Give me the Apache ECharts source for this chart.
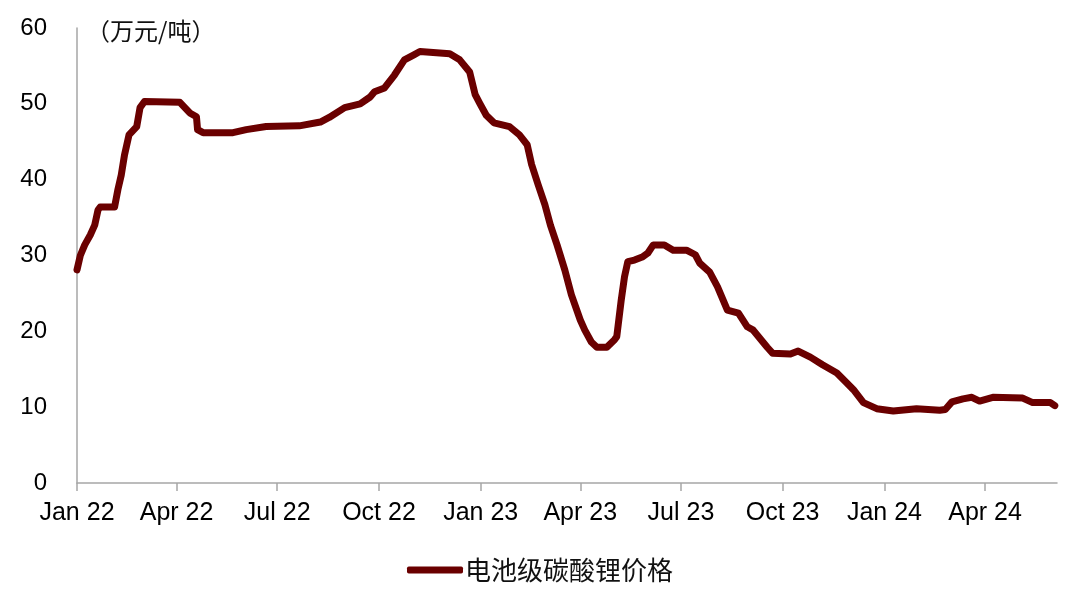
<!DOCTYPE html>
<html>
<head>
<meta charset="utf-8">
<script src="https://cdn.jsdelivr.net/npm/echarts@6/dist/echarts.min.js"></script>
<style>
html,body{margin:0;padding:0;background:#fff;}
#chart{width:1080px;height:604px;}
</style>
</head>
<body>
<div id="chart"></div>
<script>
const seriesName = '电池级碳酸锂价格';
const unitLabel = '（万元/吨）';
const tickDates = ['2022-01-01','2022-04-01','2022-07-01','2022-10-01','2023-01-01','2023-04-01','2023-07-01','2023-10-01','2024-01-01','2024-04-01'];
const tickLabels = ['Jan 22','Apr 22','Jul 22','Oct 22','Jan 23','Apr 23','Jul 23','Oct 23','Jan 24','Apr 24'];
const dates = [
 '2022-01-01','2022-01-04','2022-01-08','2022-01-13','2022-01-17','2022-01-20','2022-01-22','2022-02-04','2022-02-07','2022-02-10',
 '2022-02-13','2022-02-17','2022-02-24','2022-02-27','2022-03-03','2022-04-04','2022-04-13','2022-04-19','2022-04-20','2022-04-25',
 '2022-05-22','2022-06-03','2022-06-21','2022-07-21','2022-08-09','2022-08-17','2022-08-31','2022-09-14','2022-09-23','2022-09-27',
 '2022-10-06','2022-10-15','2022-10-24','2022-11-02','2022-11-07','2022-12-04','2022-12-13','2022-12-22','2022-12-27','2022-12-31',
 '2023-01-06','2023-01-13','2023-01-27','2023-02-05','2023-02-12','2023-02-16','2023-02-22','2023-02-28','2023-03-05','2023-03-11',
 '2023-03-18','2023-03-24','2023-04-01','2023-04-05','2023-04-11','2023-04-16','2023-04-25','2023-05-02','2023-05-04','2023-05-08',
 '2023-05-11','2023-05-14','2023-05-20','2023-05-27','2023-06-01','2023-06-06','2023-06-16','2023-06-24','2023-07-06','2023-07-14',
 '2023-07-18','2023-07-27','2023-08-03','2023-08-12','2023-08-22','2023-08-30','2023-09-04','2023-09-17','2023-09-22','2023-10-08',
 '2023-10-15','2023-10-26','2023-11-06','2023-11-19','2023-11-28','2023-12-04','2023-12-13','2023-12-25','2024-01-09','2024-01-30',
 '2024-02-20','2024-02-25','2024-03-02','2024-03-12','2024-03-20','2024-03-27','2024-04-08','2024-05-05','2024-05-14','2024-05-30',
 '2024-06-03'
];
const prices = [
 28.1,30.0,31.4,32.7,34.0,36.0,36.4,36.4,38.7,40.6,
 43.3,45.9,47.0,49.5,50.3,50.2,48.8,48.3,46.6,46.2,
 46.2,46.6,47.0,47.1,47.6,48.2,49.5,50.0,50.9,51.6,
 52.1,53.8,55.8,56.5,56.9,56.6,55.8,54.2,51.2,50.1,
 48.5,47.5,47.0,45.9,44.6,42.0,39.3,36.7,34.0,31.4,
 28.1,24.8,21.5,20.2,18.6,17.9,17.9,18.9,19.3,24.1,
 27.2,29.2,29.4,29.8,30.3,31.4,31.4,30.7,30.7,30.1,
 29.0,27.8,25.9,22.8,22.4,20.6,20.2,17.9,17.1,17.0,
 17.4,16.6,15.6,14.5,13.2,12.3,10.6,9.8,9.5,9.8,
 9.6,9.7,10.7,11.1,11.3,10.8,11.3,11.2,10.6,10.6,
 10.2
];

const ts = s => { const p = s.split('-').map(Number); return Date.UTC(p[0], p[1]-1, p[2]); };
const tickValues = tickDates.map(ts);
const labelMap = {};
tickValues.forEach((v,i)=>{ labelMap[v] = tickLabels[i]; });

const chart = echarts.init(document.getElementById('chart'), null, {renderer:'canvas'});
const font = '"Liberation Sans", Arial, "Noto Sans CJK SC", sans-serif';
const cjk = '"Noto Sans CJK SC", sans-serif';
chart.setOption({
  animation: false,
  grid: {left: 77, right: 23, top: 28, bottom: 121, containLabel: false},
  graphic: [{
    type: 'text', left: 86, top: 19,
    style: {text: unitLabel, fontSize: 24, fill: '#111', fontFamily: cjk}
  }],
  legend: {
    bottom: 16, left: 'center',
    itemWidth: 56, itemHeight: 7, itemGap: 10,
    icon: 'roundRect',
    textStyle: {fontSize: 26, color: '#111', fontFamily: cjk, padding: [0, 0, 0, -3]},
    data: [seriesName]
  },
  xAxis: {
    type: 'value',
    min: ts('2022-01-01'), max: ts('2024-06-05'),
    axisLine: {show: true, onZero: false, lineStyle: {color: '#a6a6a6', width: 1.5}},
    axisTick: {show: true, length: 8, lineStyle: {color: '#a6a6a6', width: 1.5}, customValues: tickValues},
    splitLine: {show: false},
    axisLabel: {
      customValues: tickValues, margin: 18, fontSize: 25, color: '#000', fontFamily: font,
      formatter: v => labelMap[v] || ''
    }
  },
  yAxis: {
    type: 'value', min: 0, max: 60, interval: 10,
    axisLine: {show: true, lineStyle: {color: '#a6a6a6', width: 1.5}},
    axisTick: {show: false},
    splitLine: {show: false},
    axisLabel: {fontSize: 24, color: '#000', margin: 30, fontFamily: font}
  },
  series: [{
    name: seriesName,
    type: 'line',
    data: dates.map((d,i)=>[ts(d), prices[i]]),
    showSymbol: false,
    smooth: false,
    lineStyle: {color: '#6a0000', width: 7, cap: 'round', join: 'round'},
    itemStyle: {color: '#6a0000'}
  }]
});
</script>
</body>
</html>
